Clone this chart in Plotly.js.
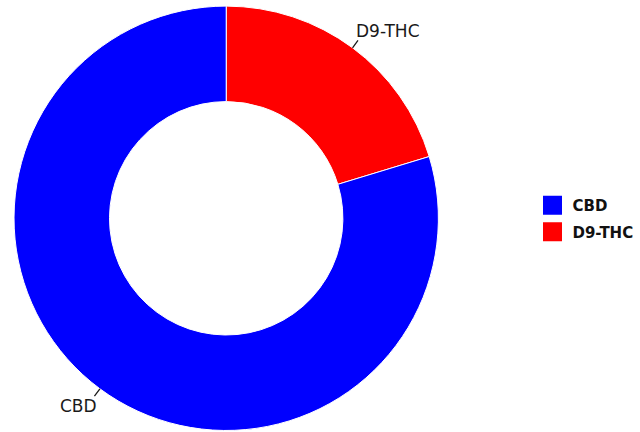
<!DOCTYPE html>
<html>
<head>
<meta charset="utf-8">
<script src="https://cdn.plot.ly/plotly-3.0.1.min.js"></script>
<style>html,body{margin:0;padding:0;background:#fff;}#chart{width:640px;height:432px;}</style>
</head>
<body>
<div id="chart"></div>
<script>
const labels = ["CBD", "D9-THC"];
const values = [79.7, 20.3];
const colors = ["#0000FF", "#FF0000"];
// slice drawing order (clockwise from 12 o'clock)
const sliceOrder = [1, 0];

const W = 640, H = 432;
const domX = [0.0219, 0.685];
const domY = [0.0035, 0.9859];

const pLabels = sliceOrder.map(i => labels[i]);
const pValues = sliceOrder.map(i => values[i]);
const pColors = sliceOrder.map(i => colors[i]);

const pie = {
  type: "pie",
  labels: pLabels,
  values: pValues,
  marker: {colors: pColors, line: {color: "#ffffff", width: 1}},
  hole: 0.55,
  sort: false,
  direction: "clockwise",
  rotation: 0,
  textinfo: "none",
  showlegend: false,
  domain: {x: domX, y: domY}
};

// legend entries (no visible data)
const legendTraces = labels.map((lab, i) => ({
  type: "scatter",
  mode: "markers",
  name: lab,
  x: [null], y: [null],
  legendgroup: "g" + i,
  marker: {symbol: "square", size: 16, color: colors[i], line: {color: colors[i], width: 3}},
  hoverinfo: "skip"
}));

// outside labels with short radial leader lines at slice mid-angles
const total = pValues.reduce((a, b) => a + b, 0);
const cxPx = (domX[0] + domX[1]) / 2 * W;
const cyPx = (domY[0] + domY[1]) / 2 * H;
const rPx = Math.min((domX[1] - domX[0]) * W, (domY[1] - domY[0]) * H) / 2;
const lead = 11;
const overlapX = 4.5;
const tuckY = 3;
const annotations = [];
let cum = 0;
pLabels.forEach((lab, i) => {
  const mid = (cum + pValues[i] / 2) / total * 2 * Math.PI;
  cum += pValues[i];
  const ux = Math.sin(mid), uy = Math.cos(mid);
  const sx = ux > 0 ? 1 : -1, sy = uy > 0 ? 1 : -1;
  // leader line
  annotations.push({
    text: "",
    xref: "paper", yref: "paper",
    x: (cxPx + rPx * ux) / W,
    y: (cyPx + rPx * uy) / H,
    showarrow: true,
    arrowhead: 0, arrowwidth: 1.3, arrowcolor: "#1a1a1a",
    standoff: 0, startstandoff: 0,
    ax: lead * ux, ay: -lead * uy
  });
  // label text
  annotations.push({
    text: lab,
    xref: "paper", yref: "paper",
    x: (cxPx + (rPx + lead) * ux) / W,
    y: (cyPx + (rPx + lead) * uy) / H,
    showarrow: false,
    xanchor: sx > 0 ? "left" : "right",
    yanchor: sy > 0 ? "bottom" : "top",
    xshift: -sx * overlapX,
    yshift: -sy * tuckY,
    borderpad: 0,
    font: {family: "DejaVu Sans", size: 17, color: "#1a1a1a"}
  });
});

const layout = {
  width: W,
  height: H,
  margin: {l: 0, r: 0, t: 0, b: 0},
  paper_bgcolor: "#ffffff",
  plot_bgcolor: "rgba(0,0,0,0)",
  font: {family: "DejaVu Sans", color: "#1a1a1a"},
  xaxis: {visible: false, range: [1, 2], fixedrange: true, domain: [0.9, 0.91]},
  yaxis: {visible: false, range: [1, 2], fixedrange: true, domain: [0.9, 0.91]},
  showlegend: true,
  annotations: annotations,
  legend: {
    x: 0.832, xanchor: "left", y: 0.494, yanchor: "middle",
    font: {family: "DejaVu Sans", size: 15, color: "#111111", weight: "bold"},
    traceorder: "grouped", tracegroupgap: 4,
    itemsizing: "trace"
  }
};

Plotly.newPlot("chart", [pie].concat(legendTraces), layout, {staticPlot: true});
</script>
</body>
</html>
